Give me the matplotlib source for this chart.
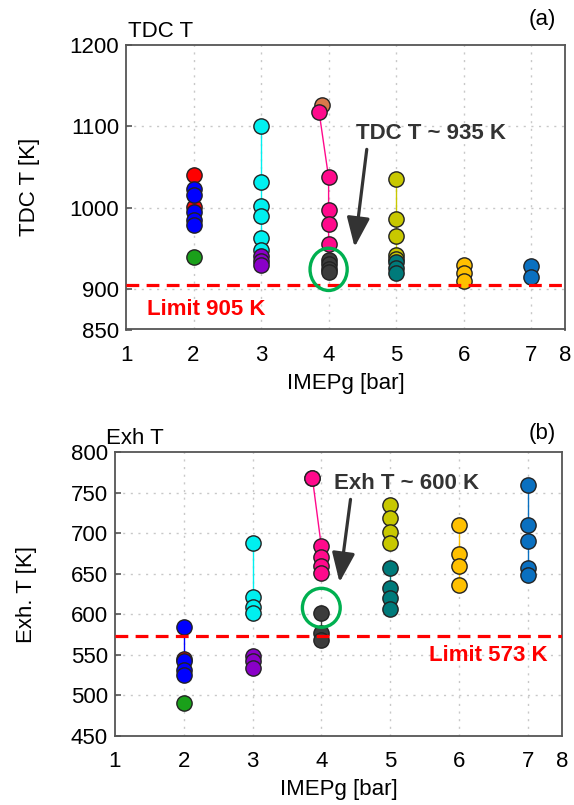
# -*- coding: utf-8 -*-

#%% Import required libraries
import matplotlib
matplotlib.use('Agg')
import matplotlib.pyplot as plt
from matplotlib.patches import Ellipse

plt.rcParams['font.family'] = ['Liberation Sans', 'DejaVu Sans']

#%% Data
# one colour per test group, drawn in this order
group_colors = ['#ff0000', '#0000ff', '#1aa01a', '#00f0f0', '#8a00c8', '#d9784a',
                '#ff0a8c', '#3c3c3c', '#c8c800', '#007a7a', '#ffc000', '#0a70c0']

# TDC temperature [K] vs IMEPg [bar]
tdc_x = [[2, 2], [2, 2, 2, 2, 2], [2], [3, 3, 3, 3, 3, 3], [3, 3, 3], [3.9],
         [3.86, 4, 4, 4, 4], [4, 4, 4, 4], [5, 5, 5, 5, 5], [5, 5, 5], [6, 6, 6], [7, 7]]
tdc_T = [[1040, 1001], [1023, 1016, 994, 985, 978], [939],
         [1100, 1031, 1002, 990, 962, 948], [941, 934, 929], [1126],
         [1117, 1037, 997, 980, 955], [935, 930, 925, 921],
         [1035, 986, 965, 942, 937], [933, 926, 919], [929, 920, 910], [928, 915]]

# Exhaust temperature [K] vs IMEPg [bar]
exh_x = [[2], [2, 2, 2, 2], [2], [3, 3, 3, 3], [3, 3, 3], [3.87],
         [3.87, 4, 4, 4, 4], [4, 4, 4], [5, 5, 5, 5], [5, 5, 5, 5], [6, 6, 6, 6], [7, 7, 7, 7, 7]]
exh_T = [[545], [584, 542, 531, 525], [491], [688, 621, 609, 602],
         [549, 542, 534], [768], [768, 684, 671, 660, 651], [601, 577, 568],
         [735, 719, 701, 688], [657, 632, 620, 606], [710, 674, 659, 636],
         [759, 710, 690, 657, 649]]

x_ticks = [1, 2, 3, 4, 5, 6, 7, 7.5]
x_ticklabels = ['1', '2', '3', '4', '5', '6', '7', '8']
tdc_ticks = [850, 900, 1000, 1100, 1200]
exh_ticks = [450, 500, 550, 600, 650, 700, 750, 800]

tdc_limit = 905
exh_limit = 573

FS = 16


#%% Plotting helpers
def style_axes(ax, yticks, ylim):
    ax.set_xlim(1, 7.5)
    ax.set_ylim(*ylim)
    ax.set_xticks(x_ticks)
    ax.set_xticklabels(x_ticklabels)
    ax.set_yticks(yticks)
    for xg in range(2, 8):
        ax.axvline(xg, color='#c8c8c8', ls=(0, (1.5, 4)), lw=1, zorder=0)
    for yg in yticks[1:-1]:
        ax.axhline(yg, color='#c8c8c8', ls=(0, (1.5, 4)), lw=1, zorder=0)
    for s in ax.spines.values():
        s.set_color('#555555')
        s.set_linewidth(1.3)
    ax.tick_params(axis='y', direction='in', length=4, width=1.2, color='#555555',
                   labelsize=FS, pad=5)
    ax.tick_params(axis='x', direction='in', length=0, labelsize=FS, pad=11)
    ax.set_xlabel('IMEPg [bar]', fontsize=FS, labelpad=5)


def draw_groups(ax, xs, ys):
    for c, x, y in zip(group_colors, xs, ys):
        ax.plot(x, y, '-', color=c, lw=1, zorder=2)
        ax.plot(x, y, 'o', ms=11, mfc=c, mec='#222222', mew=1.0, zorder=3)


fig = plt.figure(figsize=(5.74, 8.05), dpi=100)

#%% (a) TDC temperature
ax1 = fig.add_axes([126/574, 1-329.5/805, 439/574, 284.5/805])
style_axes(ax1, tdc_ticks, (850, 1200))
draw_groups(ax1, tdc_x, tdc_T)
ax1.axhline(tdc_limit, color='red', ls=(0, (4, 2.3)), lw=2.3, zorder=4)
ax1.text(1.31, 874, 'Limit %d K' % tdc_limit, color='red', fontsize=FS,
         fontweight='bold', va='center', ha='left')
ax1.add_patch(Ellipse((4.0, 924), 0.55, 52, fill=False, ec='#00b050', lw=2.4, zorder=5))
ax1.annotate('', xy=(4.38, 948), xytext=(4.57, 1075),
             arrowprops=dict(arrowstyle='-|>,head_width=0.35,head_length=0.9',
                             color='#333333', lw=2.3, mutation_scale=20))
ax1.text(4.40, 1091, 'TDC T ~ 935 K', color='#333333', fontsize=FS,
         fontweight='bold', va='center', ha='left')
ax1.set_ylabel('TDC T [K]', fontsize=FS)
ax1.yaxis.set_label_coords(-0.196, 0.5)
ax1.text(0.005, 1.01, 'TDC T', transform=ax1.transAxes, fontsize=FS,
         va='bottom', ha='left')
fig.text(556/574, 1-20/805, '(a)', fontsize=FS, ha='right', va='center')

#%% (b) Exhaust temperature
ax2 = fig.add_axes([115/574, 1-736/805, 447/574, 284/805])
style_axes(ax2, exh_ticks, (450, 800))
draw_groups(ax2, exh_x, exh_T)
ax2.axhline(exh_limit, color='red', ls=(0, (4, 2.3)), lw=2.3, zorder=4)
ax2.text(5.56, 549, 'Limit %d K' % exh_limit, color='red', fontsize=FS,
         fontweight='bold', va='center', ha='left')
ax2.add_patch(Ellipse((4.0, 608), 0.55, 48, fill=False, ec='#00b050', lw=2.4, zorder=5))
ax2.annotate('', xy=(4.26, 636), xytext=(4.43, 745),
             arrowprops=dict(arrowstyle='-|>,head_width=0.35,head_length=0.9',
                             color='#333333', lw=2.3, mutation_scale=20))
ax2.text(4.19, 761, 'Exh T ~ 600 K', color='#333333', fontsize=FS,
         fontweight='bold', va='center', ha='left')
ax2.set_ylabel('Exh. T [K]', fontsize=FS)
ax2.yaxis.set_label_coords(-0.175, 0.5)
ax2.text(-0.02, 1.01, 'Exh T', transform=ax2.transAxes, fontsize=FS,
         va='bottom', ha='left')
fig.text(556/574, 1-433/805, '(b)', fontsize=FS, ha='right', va='center')

fig.savefig('out.png', dpi=100)
